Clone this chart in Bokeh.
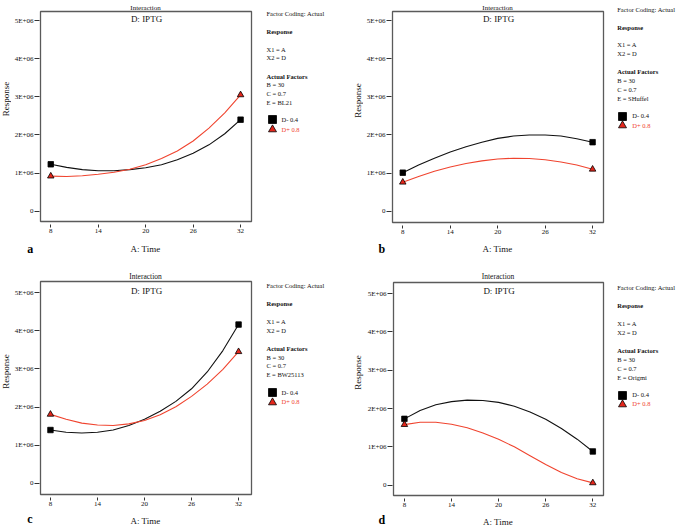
import math
from bokeh.plotting import figure
from bokeh.models import Label, Legend, LegendItem, FixedTicker, Range1d
from bokeh.layouts import row, column
from bokeh.embed import file_html
from bokeh.resources import INLINE

# ---------------- data (Response in units of 1E+06) ----------------
time_x = [8, 10, 12, 14, 16, 18, 20, 22, 24, 26, 28, 30, 32]

a_low = [1.23, 1.15, 1.09, 1.06, 1.06, 1.09, 1.14, 1.22, 1.35, 1.52, 1.74, 2.03, 2.40]
a_high = [0.92, 0.91, 0.93, 0.97, 1.02, 1.10, 1.22, 1.38, 1.58, 1.84, 2.18, 2.58, 3.05]
b_low = [1.01, 1.21, 1.39, 1.55, 1.69, 1.81, 1.91, 1.97, 2.00, 2.00, 1.97, 1.90, 1.81]
b_high = [0.76, 0.91, 1.05, 1.16, 1.25, 1.32, 1.37, 1.39, 1.38, 1.35, 1.29, 1.21, 1.10]
c_low = [1.40, 1.34, 1.32, 1.34, 1.40, 1.52, 1.68, 1.89, 2.15, 2.48, 2.92, 3.48, 4.16]
c_high = [1.81, 1.68, 1.58, 1.53, 1.52, 1.56, 1.65, 1.80, 2.01, 2.28, 2.60, 2.99, 3.45]
d_low = [1.73, 1.95, 2.10, 2.18, 2.22, 2.21, 2.16, 2.06, 1.91, 1.72, 1.48, 1.20, 0.88]
d_high = [1.58, 1.64, 1.64, 1.59, 1.50, 1.36, 1.20, 1.00, 0.77, 0.54, 0.33, 0.17, 0.06]

strains = ["BL21", "SHuffel", "BW25113", "Origmi"]
panel_letters = ["a", "b", "c", "d"]
x_ticks = [8, 14, 20, 26, 32]
y_ticks = [0, 1, 2, 3, 4, 5]
y_tick_labels = ["0", "1E+06", "2E+06", "3E+06", "4E+06", "5E+06"]
legend_labels = ["D- 0.4", "D+ 0.8"]
side_lines = ["Factor Coding: Actual", "Response", "X1 = A", "X2 = D",
              "Actual Factors", "B = 30", "C = 0.7"]

SERIF = "Liberation Serif"
INK = "#111111"
RED = "#f0442f"
RED_FILL = "#e3261b"
PANEL_W = 338

# layout (pixel coordinates inside each 338-wide panel, y from the panel top)
panels = [
    dict(low=a_low, high=a_high, left=39, fw=212, top=11, fh=210, ph=238, rowh=262,
         xr=(6.70, 33.38), yr=(-0.270, 5.236), lw=11, resp_x=5.5,
         inter_y=5.0, inter_size="7px", iptg_y=18.5,
         side_x=266, side_y=[13, 30.7, 48.7, 57.3, 75.7, 84.3, 93.3, 102],
         leg_x=271.5, leg_y=[119.3, 129], letter=(26.7, 248.3), xlab_y=248.3),
    dict(low=b_low, high=b_high, left=53, fw=212, top=11, fh=211, ph=238, rowh=262,
         xr=(6.70, 33.38), yr=(-0.296, 5.236), lw=25, resp_x=19.3,
         inter_y=5.0, inter_size="7px", iptg_y=18.5,
         side_x=278.7, side_y=[9, 26.7, 44.3, 53, 71.3, 80, 89, 97.7],
         leg_x=284.3, leg_y=[115.7, 125], letter=(40, 248.3), xlab_y=248.3),
    dict(low=c_low, high=c_high, left=39, fw=212, top=19, fh=213, ph=248, rowh=265,
         xr=(6.73, 33.65), yr=(-0.288, 5.288), lw=11, resp_x=5.5,
         inter_y=14.3, inter_size="7.5px", iptg_y=28.3,
         side_x=266, side_y=[23, 41.3, 59, 68, 86, 94.7, 103.3, 112.3],
         leg_x=271.5, leg_y=[130.3, 139.7], letter=(26.7, 256.3), xlab_y=258.3),
    dict(low=d_low, high=d_high, left=54, fw=211, top=20, fh=213, ph=249, rowh=265,
         xr=(6.61, 33.36), yr=(-0.269, 5.287), lw=26, resp_x=19.3,
         inter_y=14.3, inter_size="7.5px", iptg_y=28.3,
         side_x=278.7, side_y=[25, 43, 61, 70, 88, 96.7, 105.7, 114.7],
         leg_x=284.3, leg_y=[132.7, 141.7], letter=(40, 257), xlab_y=259.4),
]


def text_fig(w, h):
    f = figure(width=w, height=h, output_backend="svg", toolbar_location=None,
               x_range=Range1d(0, 1), y_range=Range1d(0, 1),
               x_axis_type=None, y_axis_type=None, min_border=0)
    f.grid.visible = False
    f.outline_line_color = None
    f.background_fill_color = "white"
    f.border_fill_color = "white"
    return f


def add_text(f, h, text, x, y, size, style="normal", color=INK, align="left", angle=0):
    f.add_layout(Label(x=x, y=h - y, x_units="screen", y_units="screen",
                       text=text, text_font=SERIF, text_font_size=size,
                       text_font_style=style, text_color=color, angle=angle,
                       text_align=align, text_baseline="middle"))


def make_panel(i, cfg):
    left, top, fw, fh, ph, rowh = cfg["left"], cfg["top"], cfg["fw"], cfg["fh"], cfg["ph"], cfg["rowh"]
    lw = cfg["lw"]
    pw = left - lw + fw + 4          # plot figure width
    th = top - 1                     # strip above the frame
    plot_h = ph - th
    p = figure(width=pw, height=plot_h, output_backend="svg", toolbar_location=None,
               x_range=Range1d(*cfg["xr"]), y_range=Range1d(*cfg["yr"]),
               min_border_left=left - lw, min_border_right=4,
               min_border_top=1, min_border_bottom=plot_h - 1 - fh)
    p.grid.visible = False
    p.background_fill_color = "white"
    p.border_fill_color = "white"
    p.outline_line_color = "#5a5a5a"
    p.outline_line_width = 1.3

    for ax in (p.xaxis[0], p.yaxis[0]):
        ax.axis_line_color = None
        ax.major_tick_line_color = "#333333"
        ax.minor_tick_line_color = None
        ax.major_label_text_font = SERIF
        ax.major_label_text_font_size = "7px"
        ax.major_label_text_color = INK
        ax.major_label_standoff = 1
    p.xaxis.major_tick_in = -3
    p.xaxis.major_tick_out = 6
    p.yaxis.major_tick_in = -1
    p.yaxis.major_tick_out = 6
    p.xaxis.ticker = FixedTicker(ticks=x_ticks)
    p.yaxis.ticker = FixedTicker(ticks=y_ticks)
    p.yaxis.major_label_overrides = {t: s for t, s in zip(y_ticks, y_tick_labels)}

    low, high = cfg["low"], cfg["high"]
    p.line(time_x, low, line_color=INK, line_width=1.1)
    p.line(time_x, high, line_color=RED, line_width=1.1)
    ends_x = [time_x[0], time_x[-1]]
    p.scatter(ends_x, [low[0], low[-1]], marker="square", size=5.5,
              fill_color="black", line_color="black", line_width=0.8)
    p.scatter(ends_x, [high[0], high[-1]], marker="triangle", size=6.5,
              fill_color=RED_FILL, line_color="black", line_width=0.8)
    p.add_layout(Label(x=fw / 2, y=fh - (cfg["iptg_y"] - top),
                       x_units="screen", y_units="screen", text="D: IPTG",
                       text_font=SERIF, text_font_size="9px", text_color=INK,
                       text_align="center", text_baseline="middle"))

    # left strip: y-axis title
    lf = text_fig(lw, plot_h)
    add_text(lf, plot_h, "Response", cfg["resp_x"], 1 + fh / 2 - 0.5, "9px",
             align="center", angle=math.pi / 2)

    # top strip: panel title
    t = text_fig(lw + pw, th)
    add_text(t, th, "Interaction", left + fw / 2, cfg["inter_y"], cfg["inter_size"],
             align="center")

    # bottom strip: x-axis title and panel letter
    bh = rowh - ph
    b = text_fig(lw + pw, bh)
    add_text(b, bh, "A: Time", left + fw / 2, cfg["xlab_y"] - ph, "9px", align="center")
    add_text(b, bh, panel_letters[i], cfg["letter"][0], cfg["letter"][1] - ph, "12px",
             style="bold", color="black")

    # side strip: factor notes and legend
    x0 = lw + pw
    sw = PANEL_W - x0
    s = text_fig(sw, rowh)
    texts = side_lines + ["E = " + strains[i]]
    for txt, yy in zip(texts, cfg["side_y"]):
        style = "bold" if txt in ("Response", "Actual Factors") else "normal"
        add_text(s, rowh, txt, cfg["side_x"] - x0, yy, "6.5px", style=style)
    sq = s.scatter(ends_x, [low[0], low[-1]], marker="square", size=5.5,
                   fill_color="black", line_color="black", line_width=0.8, visible=False)
    tri = s.scatter(ends_x, [high[0], high[-1]], marker="triangle", size=6.5,
                    fill_color=RED_FILL, line_color="black", line_width=0.8, visible=False)
    for r, txt, col, yy in ((sq, legend_labels[0], INK, cfg["leg_y"][0]),
                            (tri, legend_labels[1], RED, cfg["leg_y"][1])):
        leg = Legend(items=[LegendItem(label=txt, renderers=[r])],
                     location=(cfg["leg_x"] - x0 - 10, rowh - (yy + 10)),
                     glyph_width=20, glyph_height=20, label_height=20,
                     label_standoff=-5, padding=0, margin=0, spacing=0,
                     border_line_alpha=0, background_fill_alpha=0,
                     label_text_font=SERIF, label_text_font_size="6.5px",
                     label_text_color=col)
        s.add_layout(leg, "center")
    return row(column(t, row(lf, p), b), s)


cells = [make_panel(i, cfg) for i, cfg in enumerate(panels)]
layout = column(row(cells[0], cells[1]), row(cells[2], cells[3]))

open("out.html", "w").write(file_html(layout, INLINE))
